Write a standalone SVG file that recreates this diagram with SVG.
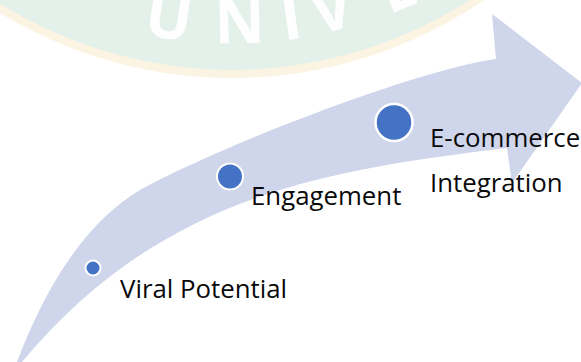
<svg xmlns="http://www.w3.org/2000/svg" width="581" height="362" viewBox="0 0 581 362">
  <style>
    .dot { fill: #4472C4; stroke: #FFFFFF; stroke-width: 2; }
    .label { font-family: "Open Sans", "Noto Sans", "Liberation Sans", sans-serif; font-size: 25.8px; fill: #0A0A0A; }
    .wm { font-family: "Open Sans", "Liberation Sans", sans-serif; font-weight: bold; font-size: 62px; fill: #FFFFFF; fill-opacity: 0.9; text-anchor: middle; }
  </style>
  <rect width="581" height="362" fill="#FFFFFF"/>
  <g id="watermark">
    <ellipse cx="232" cy="-405" rx="463" ry="483" fill="#FBF4E3"/>
    <ellipse cx="232" cy="-405" rx="455" ry="475" fill="#E4F1EA"/>
    <text class="wm" transform="translate(166,38.5) rotate(8.5)">U</text>
    <text class="wm" transform="translate(240,43) rotate(-1)">N</text>
    <text class="wm" transform="translate(294,39) rotate(-8)">I</text>
    <text class="wm" transform="translate(337,30) rotate(-13.6)">V</text>
    <text class="wm" transform="translate(405,8) rotate(-22.7)">E</text>
  </g>
  <g id="connectors">
    <path id="arrow" fill="#CFD5EA" d="M 17 362 Q 65 235 140 190 C 220 146 416 70 496 59 L 492 14 L 582 83 L 512 183 L 507 148 C 327 170 162 194 22 362 Z"/>
  </g>
  <g id="node-viral">
    <circle class="dot" cx="93" cy="268" r="7.5"/>
    <text class="label" x="120" y="298">Viral Potential</text>
  </g>
  <g id="node-engagement">
    <circle class="dot" cx="230" cy="176.5" r="13"/>
    <text class="label" x="251" y="205">Engagement</text>
  </g>
  <g id="node-ecommerce">
    <circle class="dot" cx="394" cy="122.5" r="18.5" style="stroke-width:2.5"/>
    <text class="label" x="430" y="147">E-commerce</text>
    <text class="label" x="430" y="192">Integration</text>
  </g>
</svg>
